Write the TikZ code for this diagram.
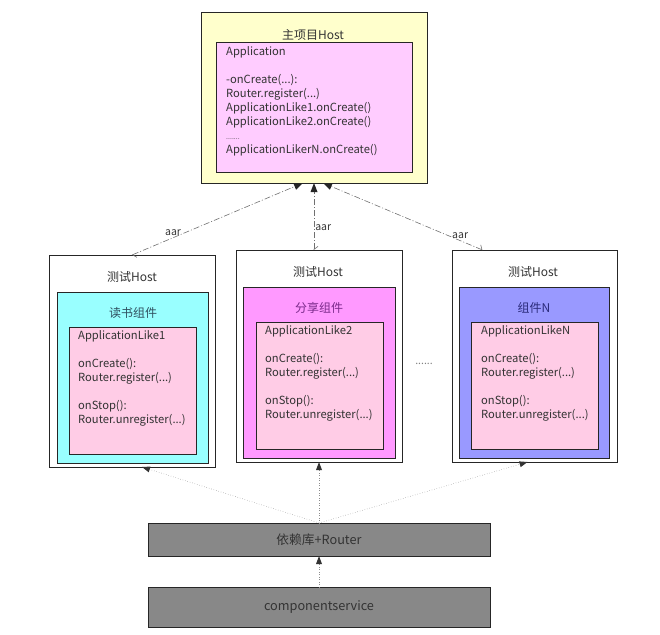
\documentclass[tikz,border=0pt]{standalone}
\usepackage{fontspec}
\setmainfont{Noto Sans CJK SC}
\usetikzlibrary{arrows.meta,calc}
\definecolor{hostyellow}{HTML}{FFFFCC}
\definecolor{appviolet}{HTML}{FFCCFF}
\definecolor{modcyan}{HTML}{99FFFF}
\definecolor{modmagenta}{HTML}{FF99FF}
\definecolor{modblue}{HTML}{9999FF}
\definecolor{likepink}{HTML}{FFCCE6}
\definecolor{libgray}{HTML}{888888}
\definecolor{txt}{HTML}{333333}
\definecolor{linegray}{HTML}{707070}
\definecolor{dotgray}{HTML}{8C8C8C}
\definecolor{readtitle}{HTML}{2F4F5F}
\definecolor{sharetitle}{HTML}{7A2A8A}
\definecolor{ntitle}{HTML}{2A2A7A}
\begin{document}
\begin{tikzpicture}[x=1pt,y=-1pt,
  frame/.style={draw=black!85, line width=1pt, inner sep=0pt, outer sep=0pt, anchor=north west},
  title/.style={font=\fontsize{12}{14}\selectfont, text=txt, inner sep=0pt},
  base/.style={font=\fontsize{12.7}{15}\selectfont, text=txt, inner sep=0pt},
  code/.style={font=\fontsize{11.2}{14}\selectfont, text=txt, align=left, inner sep=0pt, anchor=north west},
  dep/.style={dotgray, line width=0.5pt, dotted, -{Triangle[length=8pt,width=6pt,fill=black!80,line width=0pt]}},
  aar/.style={linegray, line width=0.6pt, dash pattern=on 6pt off 2pt on 1pt off 2pt,
    {Straight Barb[harpoon,length=3pt,width=8pt]}-{Triangle[length=9pt,width=7pt,fill=black!85,line width=0pt]}},
  lbl/.style={font=\fontsize{10.5}{12}\selectfont, text=txt, inner sep=1pt}]
\useasboundingbox (0,0) rectangle (660,634);

% main project host
\node[frame, fill=hostyellow, minimum width=226pt, minimum height=170pt] (top) at (201,13) {};
\node[title] (toptitle) at (313,35) {主项目Host};
\node[frame, fill=appviolet, minimum width=196pt, minimum height=129pt] (app) at (216,43) {};
\node[code] (apptext) at (226,46) {Application\\[14pt]-onCreate(...):\\Router.register(...)\\ApplicationLike1.onCreate()\\ApplicationLike2.onCreate()\\{\fontsize{7}{14}\selectfont .......}\\ApplicationLikerN.onCreate()};

% test hosts
\node[frame, fill=white, minimum width=166pt, minimum height=212pt] (h1) at (49,255) {};
\node[title] (h1title) at (132,277) {测试Host};
\node[frame, fill=modcyan, minimum width=151pt, minimum height=171pt] (m1) at (57,292) {};
\node[title, text=readtitle] (m1title) at (133,313) {读书组件};
\node[frame, fill=likepink, minimum width=127pt, minimum height=127pt] (l1) at (69,327) {};
\node[code] (l1text) at (78,330) {ApplicationLike1\\[14pt]onCreate():\\Router.register(...)\\[14pt]onStop():\\Router.unregister(...)};

\node[frame, fill=white, minimum width=166pt, minimum height=212pt] (h2) at (236,250) {};
\node[title] (h2title) at (318,272) {测试Host};
\node[frame, fill=modmagenta, minimum width=152pt, minimum height=171pt] (m2) at (243,287) {};
\node[title, text=sharetitle] (m2title) at (319,308) {分享组件};
\node[frame, fill=likepink, minimum width=127pt, minimum height=127pt] (l2) at (256,322) {};
\node[code] (l2text) at (265,325) {ApplicationLike2\\[14pt]onCreate():\\Router.register(...)\\[14pt]onStop():\\Router.unregister(...)};

\node[frame, fill=white, minimum width=165pt, minimum height=212pt] (h3) at (452,250) {};
\node[title] (h3title) at (533,272) {测试Host};
\node[frame, fill=modblue, minimum width=150pt, minimum height=171pt] (m3) at (459,287) {};
\node[title, text=ntitle] (m3title) at (534,308) {组件N};
\node[frame, fill=likepink, minimum width=127pt, minimum height=127pt] (l3) at (471,322) {};
\node[code] (l3text) at (481,325) {ApplicationLikeN\\[14pt]onCreate():\\Router.register(...)\\[14pt]onStop():\\Router.unregister(...)};

\node[lbl, text=gray] (more) at (424,364) {......};

% base libraries
\node[frame, fill=libgray, minimum width=342pt, minimum height=33pt] (lib) at (148,523) {};
\node[base] (libtext) at (lib.center) {依赖库+Router};
\node[frame, fill=libgray, minimum width=342pt, minimum height=40pt] (svc) at (148,587) {};
\node[base] (svctext) at (svc.center) {componentservice};

% dependencies
\draw[dep] (svc.north) -- (lib.south);
\draw[dep] (lib.north) -- ($(h1.south)+(10,0)$);
\draw[dep] (lib.north) -- (h2.south);
\draw[dep] (lib.north) -- ($(h3.south)+(-7,0)$);

% aar packaging into the main host
\draw[aar] (h1.north) -- node[lbl, pos=0.24, anchor=south, yshift=1pt] (aar1) {aar} ($(top.south)+(-11,0)$);
\draw[aar] (top.south |- h2.north) -- node[lbl, pos=0.33, anchor=west] (aar2) {aar} (top.south);
\draw[aar] ($(h3.north)+(-52,0)$) -- node[lbl, pos=0.14, anchor=south, yshift=1pt] (aar3) {aar} ($(top.south)+(9,0)$);
\end{tikzpicture}
\end{document}
